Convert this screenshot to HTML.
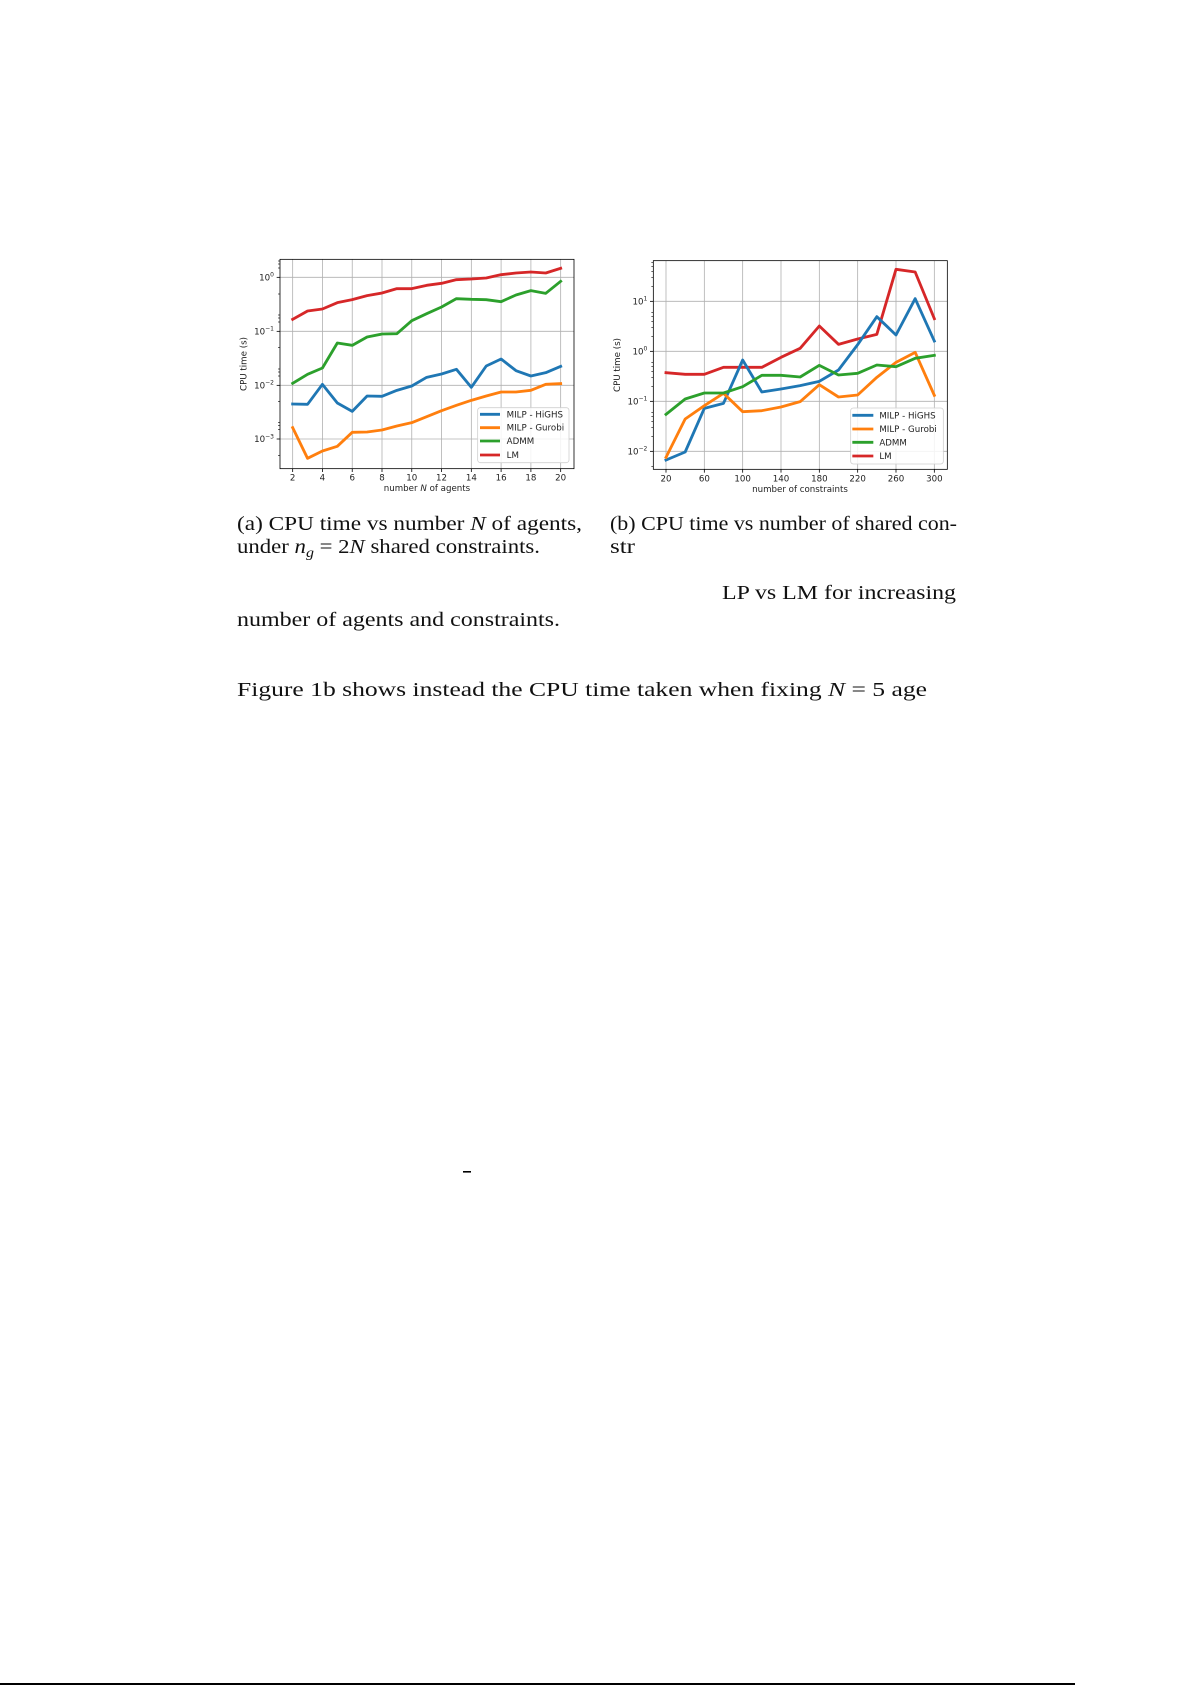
<!DOCTYPE html>
<html><head><meta charset="utf-8"><style>
html,body{margin:0;padding:0;background:#fff;}
svg{display:block}
.t{font-family:"DejaVu Sans","Liberation Sans",sans-serif;font-size:26px;fill:#222}
.c{font-family:"Liberation Serif",serif;font-size:20px;fill:#111}
</style></head><body>
<svg width="1192" height="1685" viewBox="0 0 1192 1685" xmlns="http://www.w3.org/2000/svg">
<rect width="1192" height="1685" fill="#fff"/>

<!-- Plot A -->
<g transform="translate(220,240) scale(0.33333)">
  <g stroke="#b0b0b0" stroke-width="2.4">
    <line x1="218" y1="58" x2="218" y2="686"/><line x1="307.3" y1="58" x2="307.3" y2="686"/>
    <line x1="396.7" y1="58" x2="396.7" y2="686"/><line x1="486" y1="58" x2="486" y2="686"/>
    <line x1="575.3" y1="58" x2="575.3" y2="686"/><line x1="664.7" y1="58" x2="664.7" y2="686"/>
    <line x1="754" y1="58" x2="754" y2="686"/><line x1="843.3" y1="58" x2="843.3" y2="686"/>
    <line x1="932.7" y1="58" x2="932.7" y2="686"/><line x1="1022" y1="58" x2="1022" y2="686"/>
    <line x1="180" y1="112" x2="1062" y2="112"/><line x1="180" y1="274" x2="1062" y2="274"/>
    <line x1="180" y1="436" x2="1062" y2="436"/><line x1="180" y1="597" x2="1062" y2="597"/>
  </g>
  <g fill="none" stroke-width="8.5" stroke-linejoin="round" stroke-linecap="square">
    <polyline stroke="#d62728" points="218,238 262.7,213 307.3,207 352,188 396.7,179 441.3,167 486,159 530.7,146 575.3,146 620,136 664.7,130 709.3,119 754,117 798.7,114 843.3,104 888,99 932.7,96 977.3,99 1022,85"/>
    <polyline stroke="#2ca02c" points="218,430 262.7,403 307.3,384 352,309 396.7,316 441.3,291 486,282 530.7,281 575.3,242 620,221 664.7,201 709.3,176 754,178 798.7,179 843.3,185 888,165 932.7,152 977.3,160 1022,124"/>
    <polyline stroke="#1f77b4" points="218,492 262.7,493 307.3,433 352,489 396.7,514 441.3,468 486,469 530.7,451 575.3,438 620,412 664.7,402 709.3,388 754,442 798.7,378 843.3,357 888,392 932.7,408 977.3,398 1022,379"/>
    <polyline stroke="#ff7f0e" points="218,563 262.7,655 307.3,633 352,619 396.7,577 441.3,576 486,570 530.7,558 575.3,548 620,530 664.7,512 709.3,496 754,481 798.7,468 843.3,456 888,456 932.7,451 977.3,433 1022,431"/>
  </g>
  <rect x="180" y="58" width="882" height="628" fill="none" stroke="#000" stroke-width="2.4"/>
  <g stroke="#000" stroke-width="2.4">
    <line x1="170" y1="112" x2="180" y2="112"/><line x1="170" y1="274" x2="180" y2="274"/>
    <line x1="170" y1="436" x2="180" y2="436"/><line x1="170" y1="597" x2="180" y2="597"/>
    <line x1="218" y1="686" x2="218" y2="696"/><line x1="307.3" y1="686" x2="307.3" y2="696"/>
    <line x1="396.7" y1="686" x2="396.7" y2="696"/><line x1="486" y1="686" x2="486" y2="696"/>
    <line x1="575.3" y1="686" x2="575.3" y2="696"/><line x1="664.7" y1="686" x2="664.7" y2="696"/>
    <line x1="754" y1="686" x2="754" y2="696"/><line x1="843.3" y1="686" x2="843.3" y2="696"/>
    <line x1="932.7" y1="686" x2="932.7" y2="696"/><line x1="1022" y1="686" x2="1022" y2="696"/>
  </g>
  <g stroke="#000" stroke-width="1.8">
    <line x1="174" y1="63" x2="180" y2="63"/><line x1="174" y1="72" x2="180" y2="72"/><line x1="174" y1="84" x2="180" y2="84"/>
    <line x1="174" y1="225" x2="180" y2="225"/><line x1="174" y1="234" x2="180" y2="234"/><line x1="174" y1="246" x2="180" y2="246"/><line x1="174" y1="162" x2="180" y2="162"/>
    <line x1="174" y1="387" x2="180" y2="387"/><line x1="174" y1="396" x2="180" y2="396"/><line x1="174" y1="408" x2="180" y2="408"/><line x1="174" y1="323" x2="180" y2="323"/>
    <line x1="174" y1="548" x2="180" y2="548"/><line x1="174" y1="557" x2="180" y2="557"/><line x1="174" y1="569" x2="180" y2="569"/><line x1="174" y1="485" x2="180" y2="485"/>
    <line x1="174" y1="646" x2="180" y2="646"/>
  </g>
  <g class="t" text-anchor="end">
    <text x="162" y="121">10<tspan font-size="18" dy="-11">0</tspan></text>
    <text x="162" y="283">10<tspan font-size="18" dy="-11">−1</tspan></text>
    <text x="162" y="445">10<tspan font-size="18" dy="-11">−2</tspan></text>
    <text x="162" y="606">10<tspan font-size="18" dy="-11">−3</tspan></text>
  </g>
  <g class="t" text-anchor="middle">
    <text x="218" y="722">2</text><text x="307.3" y="722">4</text><text x="396.7" y="722">6</text>
    <text x="486" y="722">8</text><text x="575.3" y="722">10</text><text x="664.7" y="722">12</text>
    <text x="754" y="722">14</text><text x="843.3" y="722">16</text><text x="932.7" y="722">18</text>
    <text x="1022" y="722">20</text>
    <text x="621" y="753">number <tspan font-style="italic">N</tspan> of agents</text>
    <text transform="translate(80,372) rotate(-90)">CPU time (s)</text>
  </g>
  <rect x="773" y="503" width="274" height="165" rx="8" fill="#fff" fill-opacity="0.85" stroke="#d0d0d0" stroke-width="2.4"/>
  <g stroke-width="8.5">
    <line x1="780" y1="523" x2="840" y2="523" stroke="#1f77b4"/>
    <line x1="780" y1="563" x2="840" y2="563" stroke="#ff7f0e"/>
    <line x1="780" y1="603" x2="840" y2="603" stroke="#2ca02c"/>
    <line x1="780" y1="645" x2="840" y2="645" stroke="#d62728"/>
  </g>
  <g class="t">
    <text x="860" y="532">MILP - HiGHS</text><text x="860" y="572">MILP - Gurobi</text>
    <text x="860" y="612">ADMM</text><text x="860" y="654">LM</text>
  </g>
</g>

<!-- Plot B -->
<g transform="translate(600,240) scale(0.33333)">
  <g stroke="#b0b0b0" stroke-width="2.4">
    <line x1="198" y1="62" x2="198" y2="688"/><line x1="313" y1="62" x2="313" y2="688"/>
    <line x1="428" y1="62" x2="428" y2="688"/><line x1="543" y1="62" x2="543" y2="688"/>
    <line x1="658" y1="62" x2="658" y2="688"/><line x1="773" y1="62" x2="773" y2="688"/>
    <line x1="888" y1="62" x2="888" y2="688"/><line x1="1003" y1="62" x2="1003" y2="688"/>
    <line x1="160" y1="184" x2="1042" y2="184"/><line x1="160" y1="334" x2="1042" y2="334"/>
    <line x1="160" y1="484" x2="1042" y2="484"/><line x1="160" y1="634" x2="1042" y2="634"/>
  </g>
  <g fill="none" stroke-width="8.5" stroke-linejoin="round" stroke-linecap="square">
    <polyline stroke="#d62728" points="198,398 255.5,403 313,403 370.5,382 428,382 485.5,382 543,352 600.5,325 658,258 715.5,313 773,297 830.5,283 888,88 945.5,96 1003,236"/>
    <polyline stroke="#1f77b4" points="198,660 255.5,636 313,505 370.5,490 428,360 485.5,456 543,447 600.5,437 658,424 715.5,390 773,314 830.5,230 888,285 945.5,176 1003,303"/>
    <polyline stroke="#ff7f0e" points="198,652 255.5,537 313,497 370.5,460 428,515 485.5,512 543,501 600.5,485 658,434 715.5,471 773,465 830.5,412 888,367 945.5,337 1003,466"/>
    <polyline stroke="#2ca02c" points="198,523 255.5,477 313,459 370.5,459 428,440 485.5,406 543,406 600.5,411 658,376 715.5,405 773,400 830.5,375 888,380 945.5,355 1003,346"/>
  </g>
  <rect x="160" y="62" width="882" height="626" fill="none" stroke="#000" stroke-width="2.4"/>
  <g stroke="#000" stroke-width="2.4">
    <line x1="150" y1="184" x2="160" y2="184"/><line x1="150" y1="334" x2="160" y2="334"/>
    <line x1="150" y1="484" x2="160" y2="484"/><line x1="150" y1="634" x2="160" y2="634"/>
    <line x1="198" y1="688" x2="198" y2="698"/><line x1="313" y1="688" x2="313" y2="698"/>
    <line x1="428" y1="688" x2="428" y2="698"/><line x1="543" y1="688" x2="543" y2="698"/>
    <line x1="658" y1="688" x2="658" y2="698"/><line x1="773" y1="688" x2="773" y2="698"/>
    <line x1="888" y1="688" x2="888" y2="698"/><line x1="1003" y1="688" x2="1003" y2="698"/>
  </g>
  <g stroke="#000" stroke-width="1.8">
    <line x1="154" y1="139" x2="160" y2="139"/><line x1="154" y1="112" x2="160" y2="112"/><line x1="154" y1="94" x2="160" y2="94"/><line x1="154" y1="79" x2="160" y2="79"/><line x1="154" y1="67" x2="160" y2="67"/>
    <line x1="154" y1="289" x2="160" y2="289"/><line x1="154" y1="262" x2="160" y2="262"/><line x1="154" y1="244" x2="160" y2="244"/><line x1="154" y1="229" x2="160" y2="229"/><line x1="154" y1="217" x2="160" y2="217"/>
    <line x1="154" y1="439" x2="160" y2="439"/><line x1="154" y1="412" x2="160" y2="412"/><line x1="154" y1="394" x2="160" y2="394"/><line x1="154" y1="379" x2="160" y2="379"/><line x1="154" y1="367" x2="160" y2="367"/>
    <line x1="154" y1="589" x2="160" y2="589"/><line x1="154" y1="562" x2="160" y2="562"/><line x1="154" y1="544" x2="160" y2="544"/><line x1="154" y1="529" x2="160" y2="529"/><line x1="154" y1="517" x2="160" y2="517"/>
    <line x1="154" y1="679" x2="160" y2="679"/>
  </g>
  <g class="t" text-anchor="end">
    <text x="142" y="193">10<tspan font-size="18" dy="-11">1</tspan></text>
    <text x="142" y="343">10<tspan font-size="18" dy="-11">0</tspan></text>
    <text x="142" y="493">10<tspan font-size="18" dy="-11">−1</tspan></text>
    <text x="142" y="643">10<tspan font-size="18" dy="-11">−2</tspan></text>
  </g>
  <g class="t" text-anchor="middle">
    <text x="198" y="724">20</text><text x="313" y="724">60</text><text x="428" y="724">100</text>
    <text x="543" y="724">140</text><text x="658" y="724">180</text><text x="773" y="724">220</text>
    <text x="888" y="724">260</text><text x="1003" y="724">300</text>
    <text x="600" y="756">number of constraints</text>
    <text transform="translate(60,375) rotate(-90)">CPU time (s)</text>
  </g>
  <rect x="752" y="504" width="278" height="168" rx="8" fill="#fff" fill-opacity="0.85" stroke="#d0d0d0" stroke-width="2.4"/>
  <g stroke-width="8.5">
    <line x1="757" y1="526" x2="820" y2="526" stroke="#1f77b4"/>
    <line x1="757" y1="567" x2="820" y2="567" stroke="#ff7f0e"/>
    <line x1="757" y1="607" x2="820" y2="607" stroke="#2ca02c"/>
    <line x1="757" y1="648" x2="820" y2="648" stroke="#d62728"/>
  </g>
  <g class="t">
    <text x="838" y="535">MILP - HiGHS</text><text x="838" y="576">MILP - Gurobi</text>
    <text x="838" y="616">ADMM</text><text x="838" y="657">LM</text>
  </g>
</g>

<!-- Captions -->
<text class="c" x="237" y="530" textLength="345" lengthAdjust="spacingAndGlyphs">(a) CPU time vs number <tspan font-style="italic">N</tspan> of agents,</text>
<text class="c" x="237" y="553" textLength="303" lengthAdjust="spacingAndGlyphs">under <tspan font-style="italic">n</tspan><tspan font-style="italic" font-size="14" dy="4">g</tspan><tspan dy="-4"> = 2</tspan><tspan font-style="italic">N</tspan> shared constraints.</text>
<text class="c" x="610" y="530" textLength="347" lengthAdjust="spacingAndGlyphs">(b) CPU time vs number of shared con-</text>
<text class="c" x="610" y="553" textLength="25" lengthAdjust="spacingAndGlyphs">str</text>
<text class="c" x="722" y="599" textLength="234" lengthAdjust="spacingAndGlyphs">LP vs LM for increasing</text>
<text class="c" x="237" y="626" textLength="323" lengthAdjust="spacingAndGlyphs">number of agents and constraints.</text>
<text class="c" x="237" y="696" textLength="690" lengthAdjust="spacingAndGlyphs">Figure 1b shows instead the CPU time taken when fixing <tspan font-style="italic">N</tspan> = 5 age</text>

<rect x="463" y="1171" width="8" height="1.6" fill="#000"/>
<rect x="0" y="1683" width="1075" height="2" fill="#000"/>
</svg>
</body></html>
